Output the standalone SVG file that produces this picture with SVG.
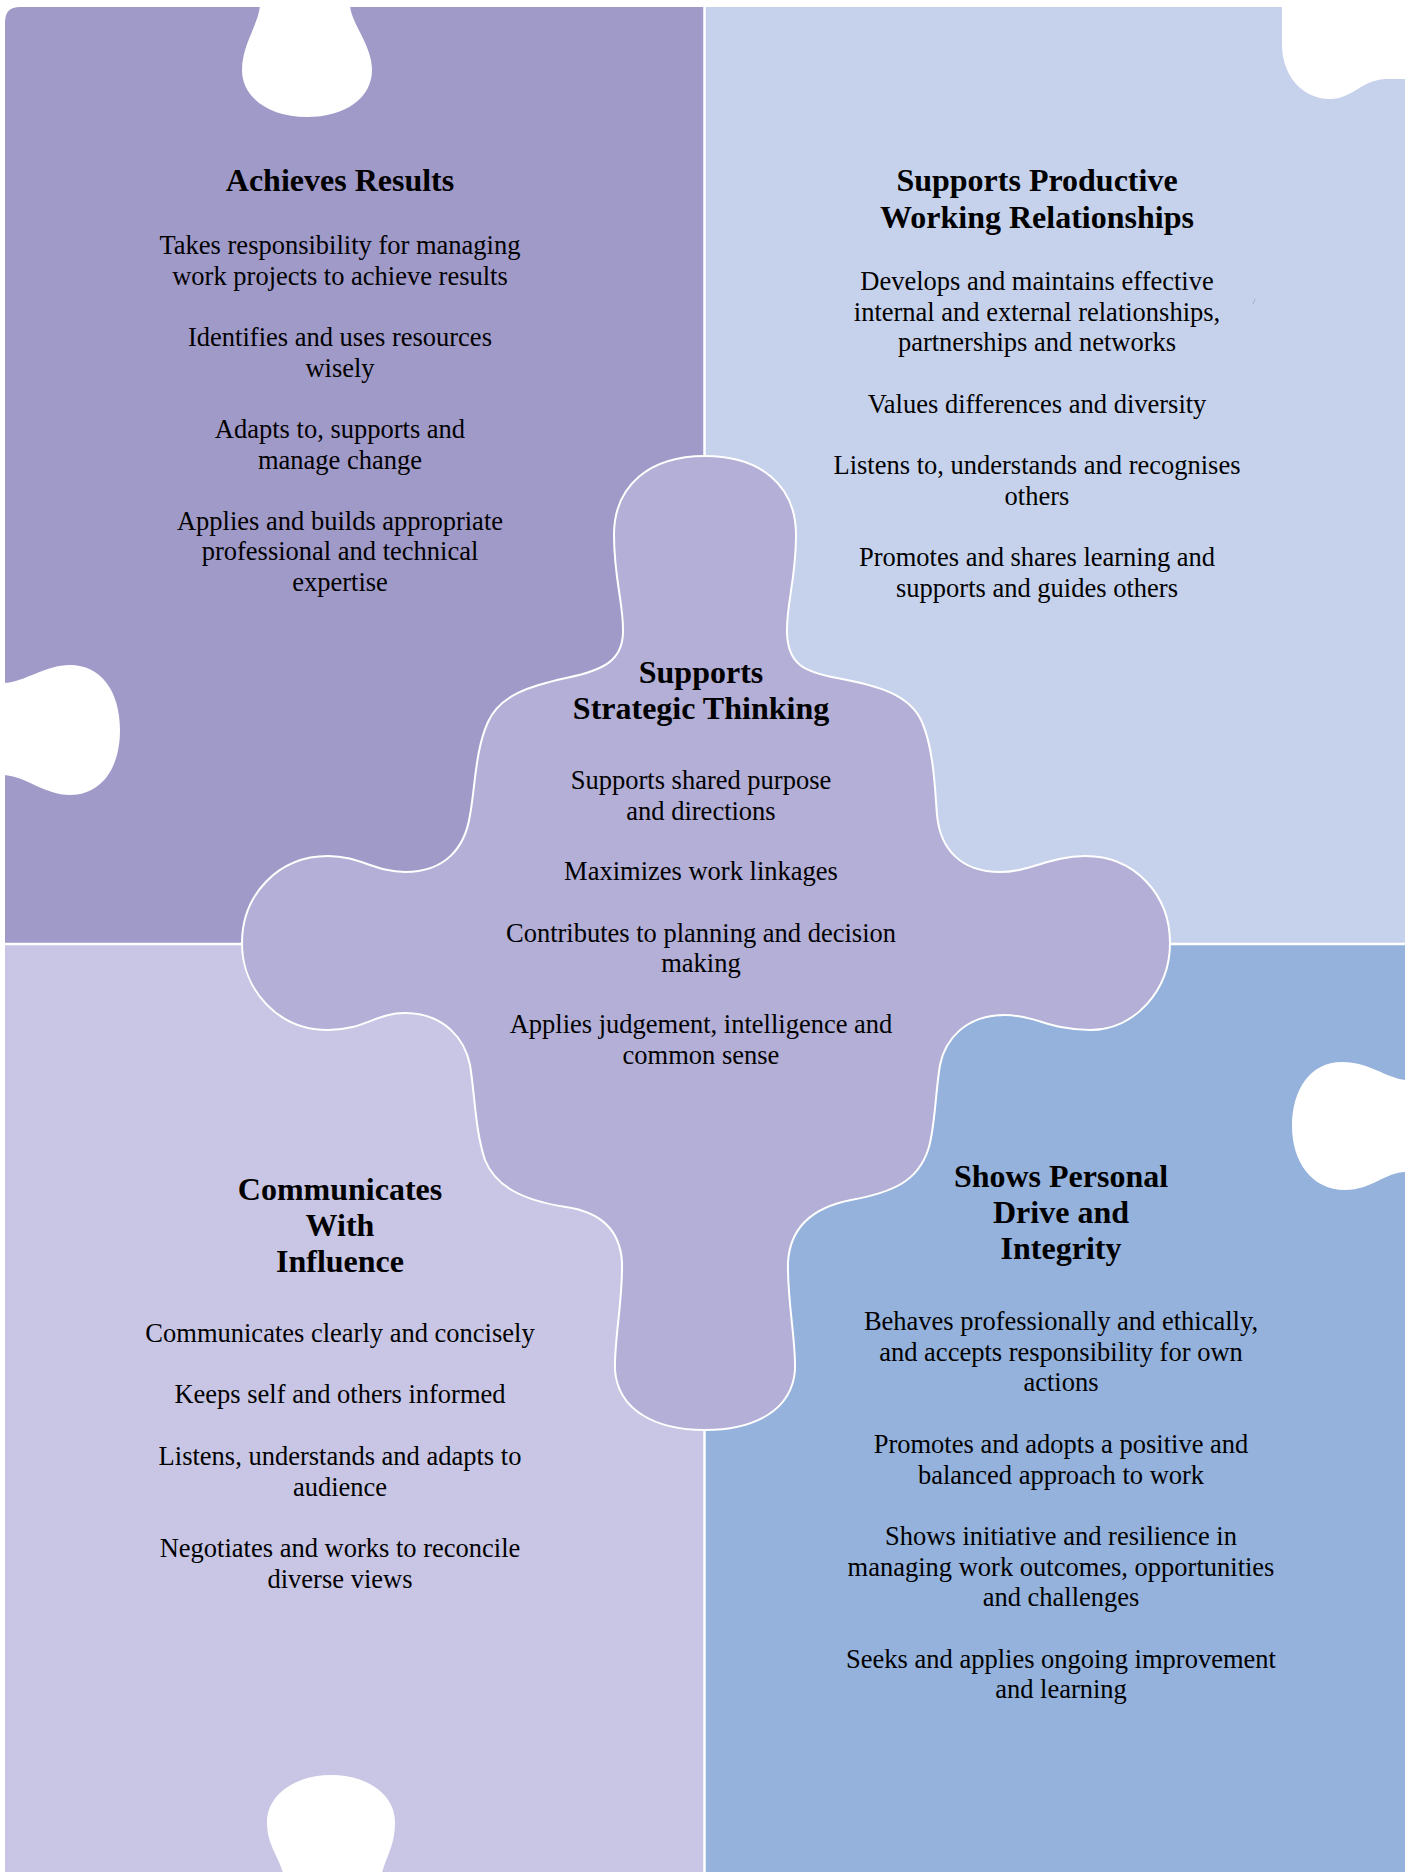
<svg xmlns="http://www.w3.org/2000/svg" width="1410" height="1872" viewBox="0 0 1410 1872">
  <style>
    .title { font-family: "Liberation Serif", "Times New Roman", serif; font-weight: bold; font-size: 32px; fill: #000; text-anchor: middle; }
    .body { font-family: "Liberation Serif", "Times New Roman", serif; font-size: 26.5px; fill: #000; text-anchor: middle; }
    .hole { fill: #FFFFFF; stroke: none; }
    .seam { stroke: #FFFFFF; stroke-width: 2.5; fill: none; }
  </style>
  <rect x="0" y="0" width="1410" height="1872" fill="#FFFFFF"/>

  <g id="achieves-results">
    <path d="M 5,22 Q 5,7 20,7 L 704,7 L 704,944 L 5,944 Z" fill="#A09AC9"/>
    <path class="hole" d="M 260,6 C 258,25 242,45 242,70 C 242,98 270,117 307,117 C 345,117 372,98 372,70 C 372,45 352,25 350,6 Z"/>
    <path class="hole" d="M 4,683 C 25,682 45,665 70,665 C 100,665 120,690 120,730 C 120,770 100,795 70,795 C 45,795 25,776 4,775 Z"/>
    <text class="title" x="340" y="191">Achieves Results</text>
    <text class="body" x="340" y="254">Takes responsibility for managing</text>
    <text class="body" x="340" y="284.7">work projects to achieve results</text>
    <text class="body" x="340" y="346">Identifies and uses resources</text>
    <text class="body" x="340" y="376.7">wisely</text>
    <text class="body" x="340" y="437.8">Adapts to, supports and</text>
    <text class="body" x="340" y="468.5">manage change</text>
    <text class="body" x="340" y="529.5">Applies and builds appropriate</text>
    <text class="body" x="340" y="560.2">professional and technical</text>
    <text class="body" x="340" y="590.9">expertise</text>
  </g>

  <g id="supports-productive-working-relationships">
    <rect x="704" y="7" width="701" height="937" fill="#C6D2EC"/>
    <path class="hole" d="M 1282,6 L 1282,45 C 1282,75 1302,99 1330,99 C 1352,99 1362,80 1385,79 L 1406,79 L 1406,6 Z"/>
    <path d="M 1253,304 L 1255,299" stroke="#A6AEC4" stroke-width="1"/>
    <text class="title" x="1037" y="191">Supports Productive</text>
    <text class="title" x="1037" y="228">Working Relationships</text>
    <text class="body" x="1037" y="290">Develops and maintains effective</text>
    <text class="body" x="1037" y="320.7">internal and external relationships,</text>
    <text class="body" x="1037" y="351.4">partnerships and networks</text>
    <text class="body" x="1037" y="412.8">Values differences and diversity</text>
    <text class="body" x="1037" y="474.2">Listens to, understands and recognises</text>
    <text class="body" x="1037" y="504.9">others</text>
    <text class="body" x="1037" y="566.3">Promotes and shares learning and</text>
    <text class="body" x="1037" y="597">supports and guides others</text>
  </g>

  <g id="communicates-with-influence">
    <rect x="5" y="944" width="699" height="928" fill="#C8C6E4"/>
    <path class="hole" d="M 283,1873 C 278,1855 267,1845 267,1822 C 267,1795 295,1775 331,1775 C 368,1775 395,1795 395,1822 C 395,1845 387,1855 382,1873 Z"/>
    <text class="title" x="340" y="1200">Communicates</text>
    <text class="title" x="340" y="1236">With</text>
    <text class="title" x="340" y="1272">Influence</text>
    <text class="body" x="340" y="1342">Communicates clearly and concisely</text>
    <text class="body" x="340" y="1403.4">Keeps self and others informed</text>
    <text class="body" x="340" y="1464.8">Listens, understands and adapts to</text>
    <text class="body" x="340" y="1495.5">audience</text>
    <text class="body" x="340" y="1556.9">Negotiates and works to reconcile</text>
    <text class="body" x="340" y="1587.6">diverse views</text>
  </g>

  <g id="shows-personal-drive-and-integrity">
    <rect x="704" y="944" width="701" height="928" fill="#94B2DC"/>
    <path class="hole" d="M 1406,1080 C 1385,1078 1370,1062 1342,1062 C 1310,1062 1292,1090 1292,1126 C 1292,1162 1312,1190 1345,1190 C 1372,1190 1385,1172 1406,1172 Z"/>
    <text class="title" x="1061" y="1187">Shows Personal</text>
    <text class="title" x="1061" y="1223">Drive and</text>
    <text class="title" x="1061" y="1259">Integrity</text>
    <text class="body" x="1061" y="1330">Behaves professionally and ethically,</text>
    <text class="body" x="1061" y="1360.7">and accepts responsibility for own</text>
    <text class="body" x="1061" y="1391.4">actions</text>
    <text class="body" x="1061" y="1452.8">Promotes and adopts a positive and</text>
    <text class="body" x="1061" y="1483.5">balanced approach to work</text>
    <text class="body" x="1061" y="1544.9">Shows initiative and resilience in</text>
    <text class="body" x="1061" y="1575.6">managing work outcomes, opportunities</text>
    <text class="body" x="1061" y="1606.3">and challenges</text>
    <text class="body" x="1061" y="1667.7">Seeks and applies ongoing improvement</text>
    <text class="body" x="1061" y="1698.4">and learning</text>
  </g>

  <g id="connectors">
    <line class="seam" x1="704.5" y1="7" x2="704.5" y2="1872"/>
    <line class="seam" x1="5" y1="944" x2="1405" y2="944"/>
  </g>

  <g id="supports-strategic-thinking">
    <path fill="#B3AFD6" stroke="#FFFFFF" stroke-width="2" d="M 705,456 C 760,456 796,485 796,535 C 796,580 786,605 787,633 C 788,665 805,672 837,678 C 880,686 910,695 922,722 C 934,750 935,790 937,815 C 940,848 960,872 1000,872 C 1030,872 1050,856 1085,856 C 1135,856 1170,895 1170,943 C 1170,990 1135,1030 1090,1030 C 1050,1030 1035,1015 1005,1015 C 965,1015 945,1040 940,1065 C 935,1095 935,1130 928,1150 C 918,1180 895,1192 851,1200 C 810,1208 790,1230 788,1262 C 787,1300 796,1340 795,1370 C 792,1410 755,1430 705,1430 C 655,1430 618,1410 615,1370 C 614,1340 623,1300 622,1262 C 620,1230 600,1212 566,1207 C 520,1200 495,1185 485,1160 C 475,1130 475,1095 470,1065 C 465,1040 445,1013 405,1013 C 375,1013 365,1030 328,1030 C 278,1030 242,990 242,943 C 242,895 278,856 328,856 C 360,856 375,872 405,872 C 445,872 465,848 470,815 C 475,790 475,750 488,722 C 500,695 530,686 566,678 C 605,670 622,660 623,633 C 624,605 614,580 614,535 C 614,485 650,456 705,456 Z"/>
    <text class="title" x="701" y="683">Supports</text>
    <text class="title" x="701" y="719">Strategic Thinking</text>
    <text class="body" x="701" y="789">Supports shared purpose</text>
    <text class="body" x="701" y="819.7">and directions</text>
    <text class="body" x="701" y="880.4">Maximizes work linkages</text>
    <text class="body" x="701" y="941.5">Contributes to planning and decision</text>
    <text class="body" x="701" y="972.2">making</text>
    <text class="body" x="701" y="1033">Applies judgement, intelligence and</text>
    <text class="body" x="701" y="1063.7">common sense</text>
  </g>
</svg>
